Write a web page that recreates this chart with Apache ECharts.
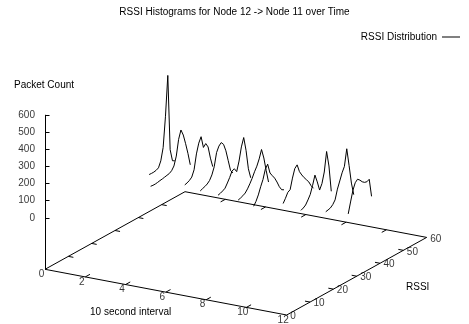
<!DOCTYPE html>
<html>
<head>
<meta charset="utf-8">
<script src="https://cdn.jsdelivr.net/npm/echarts@6/dist/echarts.min.js"></script>
<style>
  html, body { margin: 0; padding: 0; background: #fff; }
  #chart { width: 469px; height: 324px; }
</style>
</head>
<body>
<div id="chart"></div>
<script>
// Time intervals (10 s each) at which an RSSI histogram was taken
const intervals = [1, 2, 3, 4, 5, 6, 7, 8, 9, 10, 11];
// First RSSI bin of each histogram
const rssiStart = [36, 28, 34, 32, 31, 31, 29, 33, 32, 34, 35];
// Packet counts per RSSI bin (consecutive bins from rssiStart)
const hist1  = [3, 2, 2, 5, 12, 45, 115, 290, 520, 80, 8, 0];
const hist2  = [17, 15, 15, 17, 20, 22, 25, 28, 31, 40, 60, 110, 200, 247, 210, 152, 88, 14];
const hist3  = [2, 6, 13, 25, 60, 145, 200, 230, 160, 175, 148, 75, 18];
const hist4  = [4, 10, 15, 22, 35, 60, 100, 175, 205, 218, 200, 155, 90, 25, 3];
const hist5  = [9, 13, 19, 27, 50, 75, 105, 110, 86, 140, 215, 262, 180, 65, 5];
const hist6  = [3, 7, 13, 21, 38, 60, 85, 115, 140, 175, 222, 165, 85, 10];
const hist7  = [4, 25, 55, 95, 130, 182, 204, 145, 122, 100, 70, 35, 10, 2];
const hist8  = [12, 35, 62, 70, 130, 178, 192, 145, 118, 95, 75, 55, 25, 3];
const hist9  = [2, 8, 18, 40, 65, 110, 162, 115, 60, 90, 150, 262, 170, 15];
const hist10 = [1, 4, 8, 20, 40, 95, 135, 175, 205, 300, 195, 85, 10];
const hist11 = [3, 65, 125, 162, 175, 162, 145, 134, 130, 137, 30];
const histograms = [hist1, hist2, hist3, hist4, hist5, hist6, hist7, hist8, hist9, hist10, hist11];

// Axis ranges and tick labels
const intervalMax = 12, rssiMax = 60, countMax = 600;
const intervalTicks = [0, 2, 4, 6, 8, 10, 12];
const rssiTicks = [0, 10, 20, 30, 40, 50, 60];
const countTicks = [0, 100, 200, 300, 400, 500, 600];

// Oblique 3-D view: base plane sits half a z-range below zero (gnuplot-style ticslevel 0.5)
const view = {
  origin: [45, 269.3],     // screen point of (interval 0, rssi 0, base)
  tSpan: [241.7, 45.7],    // screen vector covering the full interval range
  rSpan: [140, -77.6],     // screen vector covering the full RSSI range
  zHeight: 103             // screen height of the full count range
};
const countBase = -0.5 * countMax;

function project(t, r, c) {
  const ft = t / intervalMax, fr = r / rssiMax, fc = (c - countBase) / countMax;
  return [
    view.origin[0] + ft * view.tSpan[0] + fr * view.rSpan[0],
    view.origin[1] + ft * view.tSpan[1] + fr * view.rSpan[1] - fc * view.zHeight
  ];
}

const FONT = "'Liberation Sans', Arial, Helvetica, sans-serif";
const INK = '#000';

// Base plane outline
const frame = [
  [0, 0], [intervalMax, 0], [intervalMax, rssiMax], [0, rssiMax], [0, 0]
].map(([t, r]) => project(t, r, countBase));

// Tick marks as short segments
const tickSegs = [];
intervalTicks.forEach(t => {
  if (t === 0 || t === intervalMax) return;
  tickSegs.push([project(t, 0, countBase), project(t, 2, countBase)]);
  tickSegs.push([project(t, rssiMax, countBase), project(t, rssiMax - 2, countBase)]);
});
rssiTicks.forEach(r => {
  if (r === 0 || r === rssiMax) return;
  tickSegs.push([project(intervalMax, r, countBase), project(intervalMax - 0.25, r, countBase)]);
  tickSegs.push([project(0, r, countBase), project(0.25, r, countBase)]);
});
countTicks.forEach(c => {
  const p = project(0, 0, c);
  tickSegs.push([p, [p[0] + 4.5, p[1]]]);
});
// vertical count axis
tickSegs.push([project(0, 0, countBase), project(0, 0, countMax)]);

const intervalLabels = intervalTicks.map(t => {
  const p = project(t, 0, countBase);
  return [p[0], p[1], String(t)];
});
const rssiLabels = rssiTicks.map(r => {
  const p = project(intervalMax, r, countBase);
  return [p[0], p[1], String(r)];
});
const countLabels = countTicks.map(c => {
  const p = project(0, 0, c);
  return [p[0], p[1], String(c)];
});

function labelSeries(data, label) {
  return {
    type: 'scatter', data, symbol: 'circle', symbolSize: 0.1, silent: true,
    itemStyle: { color: 'rgba(0,0,0,0)' },
    label: Object.assign({
      show: true, color: INK, fontFamily: FONT, fontSize: 10,
      formatter: p => p.data[2]
    }, label),
    z: 5
  };
}

const curveSeries = histograms.map((h, k) => ({
  name: 'RSSI Distribution',
  type: 'line',
  data: h.map((c, i) => project(intervals[k], rssiStart[k] + i, c)),
  symbol: 'none',
  lineStyle: { color: INK, width: 1 },
  itemStyle: { color: INK },
  silent: true,
  z: 4
}));

const chart = echarts.init(document.getElementById('chart'), null, { renderer: 'canvas' });
chart.setOption({
  animation: false,
  backgroundColor: '#fff',
  title: {
    text: 'RSSI Histograms for Node 12 -> Node 11 over Time',
    left: 'center', top: 7, padding: 0,
    textStyle: { fontFamily: FONT, fontSize: 10, fontWeight: 'normal', color: INK }
  },
  legend: {
    data: [{ name: 'RSSI Distribution', icon: 'rect' }],
    right: 9, top: 32, padding: 0,
    align: 'right', itemWidth: 18, itemHeight: 1,
    textStyle: { fontFamily: FONT, fontSize: 10, color: INK },
    selectedMode: false
  },
  grid: { left: 0, top: 0, right: 0, bottom: 0 },
  xAxis: { type: 'value', min: 0, max: 469, show: false },
  yAxis: { type: 'value', min: 0, max: 324, inverse: true, show: false },
  graphic: [
    { type: 'text', left: 14, top: 80, style: { text: 'Packet Count', font: '10px ' + FONT, fill: INK } },
    { type: 'text', left: 90, top: 307, style: { text: '10 second interval', font: '10px ' + FONT, fill: INK } },
    { type: 'text', left: 406, top: 282, style: { text: 'RSSI', font: '10px ' + FONT, fill: INK } }
  ],
  series: [
    {
      type: 'line', data: frame, symbol: 'none', silent: true,
      lineStyle: { color: INK, width: 1 }, z: 3
    },
    {
      type: 'lines', coordinateSystem: 'cartesian2d', silent: true,
      data: tickSegs.map(s => ({ coords: s })),
      lineStyle: { color: INK, width: 1, opacity: 1 }, z: 3
    },
    labelSeries(intervalLabels, { position: [-3.5, 5], align: 'center', verticalAlign: 'middle' }),
    labelSeries(rssiLabels, { position: [3.5, 1.5], align: 'left', verticalAlign: 'middle' }),
    labelSeries(countLabels, { position: [-10, 0], align: 'right', verticalAlign: 'middle' })
  ].concat(curveSeries)
});
</script>
</body>
</html>
